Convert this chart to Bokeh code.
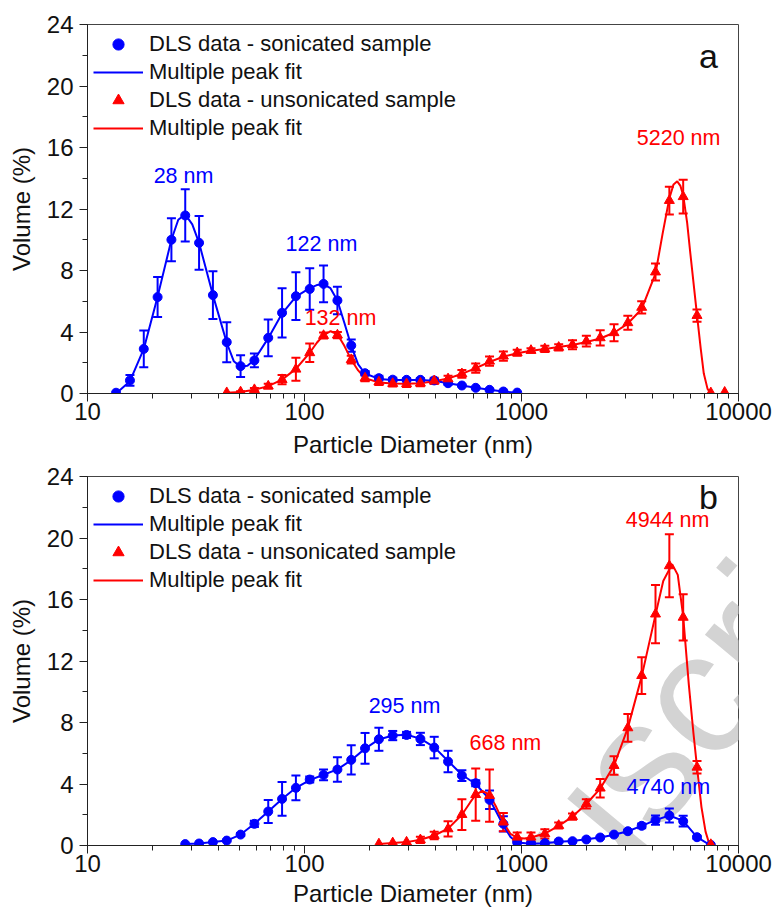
from bokeh.plotting import figure
from bokeh.layouts import column
from bokeh.models import (Range1d, LogTicker, SingleIntervalTicker, NumeralTickFormatter,
                          ColumnDataSource, Whisker, TeeHead, Legend, LegendItem, Label)
from bokeh.embed import file_html
from bokeh.resources import INLINE

FONT = "Liberation Sans"
BLUE = "#0000ff"
RED = "#ff0000"

# ---------------- Panel a ----------------
a_son_x = [13.54, 15.69, 18.17, 21.04, 24.36, 28.21, 32.67, 37.84, 43.82, 50.75, 58.77, 68.06,
           78.82, 91.28, 105.7, 122.4, 141.8, 164.2, 190.1, 220.2, 255.0, 295.3, 342.0, 396.1,
           458.7, 531.2, 615.1, 712.4, 825.0, 955.4]
a_son_y = [0.05, 0.85, 2.9, 6.27, 10.0, 11.58, 9.8, 6.4, 3.34, 1.78, 2.15, 3.62,
           5.25, 6.33, 6.8, 7.13, 6.05, 3.12, 1.32, 1.0, 0.9, 0.89, 0.89, 0.85,
           0.67, 0.52, 0.37, 0.24, 0.13, 0.06]
a_son_e = [0.0, 0.35, 1.2, 1.3, 1.4, 1.7, 1.75, 1.55, 1.3, 0.7, 0.45, 1.2,
           1.6, 1.55, 1.35, 1.2, 0.9, 0.4, 0.15, 0.15, 0.12, 0.1, 0.1, 0.1,
           0.1, 0.05, 0.05, 0.05, 0.05, 0.0]

a_uns_x = [43.82, 50.75, 58.77, 68.06, 78.82, 91.28, 105.7, 122.4, 141.8, 164.2, 190.1, 220.2,
           255.0, 295.3, 342.0, 396.1, 458.7, 531.2, 615.1, 712.4, 825.0, 955.4, 1106, 1281,
           1484, 1718, 1990, 2305, 2669, 3091, 3580, 4145, 4801, 5560, 6439, 7456, 8635]
a_uns_y = [0.05, 0.1, 0.25, 0.48, 0.9, 1.58, 2.65, 3.77, 3.8, 2.2, 1.0, 0.75,
           0.65, 0.63, 0.67, 0.82, 0.95, 1.28, 1.65, 2.1, 2.43, 2.65, 2.8, 2.9,
           3.0, 3.17, 3.4, 3.62, 3.95, 4.6, 5.6, 7.9, 12.55, 12.8, 5.07, 0.04, 0.08]
a_uns_e = [0.0, 0.05, 0.1, 0.15, 0.3, 0.75, 0.6, 0.2, 0.2, 0.25, 0.2, 0.2,
           0.2, 0.2, 0.2, 0.2, 0.2, 0.25, 0.3, 0.3, 0.3, 0.2, 0.15, 0.2,
           0.2, 0.3, 0.35, 0.5, 0.55, 0.45, 0.4, 0.55, 0.9, 1.1, 0.4, 0.0, 0.0]

a_son_fit_x = [13.54, 15.69, 18.17, 21.04, 24.36, 26.2, 28.21, 30.4, 32.67, 37.84, 43.82, 47.2,
               50.75, 54.6, 58.77, 68.06, 78.82, 91.28, 105.7, 114.0, 122.4, 131.7, 141.8, 152.6,
               164.2, 176.7, 190.1, 220.2, 255.0, 295.3, 342.0, 396.1, 458.7, 531.2, 615.1, 712.4,
               825.0, 955.4]
a_son_fit_y = [0.0, 0.8, 2.9, 6.3, 10.0, 11.3, 11.65, 11.0, 9.8, 6.4, 3.3, 2.1,
               1.75, 1.8, 2.2, 3.6, 5.2, 6.3, 6.85, 7.05, 7.1, 6.85, 6.05, 4.6,
               3.1, 1.9, 1.3, 0.95, 0.88, 0.87, 0.87, 0.83, 0.67, 0.52, 0.37, 0.24,
               0.13, 0.05]

a_uns_fit_x = [43.82, 50.75, 58.77, 68.06, 78.82, 91.28, 105.7, 114.0, 122.4, 132.0, 141.8, 152.6,
               164.2, 176.7, 190.1, 220.2, 255.0, 295.3, 342.0, 396.1, 458.7, 531.2, 615.1, 712.4,
               825.0, 955.4, 1106, 1281, 1484, 1718, 1990, 2305, 2669, 3091, 3580, 4145,
               4470, 4801, 5020, 5220, 5400, 5560, 5800, 6000, 6439, 6700, 6920, 7200, 7456]
a_uns_fit_y = [0.05, 0.1, 0.25, 0.48, 0.9, 1.6, 2.65, 3.3, 3.8, 4.05, 3.85, 3.1,
               2.2, 1.5, 1.0, 0.72, 0.65, 0.63, 0.67, 0.8, 0.97, 1.28, 1.65, 2.05,
               2.4, 2.62, 2.78, 2.9, 3.02, 3.15, 3.35, 3.58, 3.95, 4.55, 5.5, 7.8,
               10.4, 12.7, 13.6, 13.8, 13.5, 12.9, 11.1, 9.1, 5.1, 2.9, 1.3, 0.3, 0.0]

# ---------------- Panel b ----------------
b_son_x = [28.21, 32.67, 37.84, 43.82, 50.75, 58.77, 68.06, 78.82, 91.28, 105.7, 122.4, 141.8,
           164.2, 190.1, 220.2, 255.0, 295.3, 342.0, 396.1, 458.7, 531.2, 615.1, 712.4, 825.0,
           955.4, 1106, 1281, 1484, 1718, 1990, 2305, 2669, 3091, 3580, 4145, 4801, 5560, 6439, 7456]
b_son_y = [0.09, 0.13, 0.22, 0.32, 0.71, 1.41, 2.21, 3.03, 3.75, 4.29, 4.59, 4.94,
           5.57, 6.32, 6.91, 7.15, 7.19, 6.93, 6.37, 5.46, 4.55, 4.05, 2.97, 1.41,
           0.22, 0.15, 0.15, 0.26, 0.28, 0.39, 0.52, 0.71, 0.93, 1.28, 1.65, 1.95, 1.58, 0.54, 0.04]
b_son_e = [0.0, 0.0, 0.0, 0.05, 0.1, 0.2, 0.75, 1.1, 0.8, 0.2, 0.35, 0.8,
           0.95, 1.0, 0.75, 0.3, 0.2, 0.4, 0.7, 0.7, 0.35, 0.2, 0.6, 0.5,
           0.1, 0.05, 0.05, 0.05, 0.05, 0.05, 0.05, 0.05, 0.1, 0.15, 0.3, 0.45, 0.35, 0.1, 0.0]

b_uns_x = [220.2, 255.0, 295.3, 342.0, 396.1, 458.7, 531.2, 615.1, 712.4, 825.0, 955.4, 1106,
           1281, 1484, 1718, 1990, 2305, 2669, 3091, 3580, 4145, 4801, 5560, 6439, 7456]
b_uns_y = [0.1, 0.17, 0.22, 0.37, 0.65, 1.08, 2.01, 3.31, 3.25, 1.52, 0.54, 0.54,
           0.76, 1.3, 1.88, 2.71, 3.73, 5.2, 7.65, 11.05, 15.05, 18.19, 14.84, 5.09, 0.06]
b_uns_e = [0.0, 0.0, 0.0, 0.2, 0.25, 0.5, 1.0, 1.7, 1.7, 0.6, 0.3, 0.3,
           0.3, 0.2, 0.2, 0.3, 0.6, 0.6, 0.9, 1.2, 1.9, 2.05, 1.5, 0.4, 0.0]

b_son_fit_x = [28.21, 32.67, 37.84, 43.82, 50.75, 58.77, 68.06, 78.82, 91.28, 105.7, 122.4, 141.8,
               164.2, 190.1, 220.2, 255.0, 295.3, 342.0, 396.1, 458.7, 531.2, 615.1, 712.4, 765.0,
               825.0, 890.0, 955.4, 1106, 1281, 1484, 1718, 1990, 2305, 2669, 3091, 3580,
               4145, 4801, 5560, 6439, 7456]
b_son_fit_y = [0.09, 0.13, 0.22, 0.32, 0.71, 1.41, 2.21, 3.03, 3.75, 4.25, 4.6, 4.95,
               5.55, 6.3, 6.9, 7.15, 7.2, 6.95, 6.4, 5.5, 4.6, 4.0, 3.0, 2.2,
               1.3, 0.55, 0.2, 0.12, 0.15, 0.25, 0.3, 0.4, 0.52, 0.7, 0.93, 1.28,
               1.65, 1.95, 1.6, 0.55, 0.0]

b_uns_fit_x = [220.2, 255.0, 295.3, 342.0, 396.1, 458.7, 531.2, 580.0, 615.1, 660.0, 712.4, 765.0,
               825.0, 890.0, 955.4, 1030, 1106, 1281, 1484, 1718, 1990, 2305, 2669, 3091,
               3580, 4145, 4500, 4944, 5250, 5560, 5900, 6200, 6439, 6750, 7050, 7300, 7456]
b_uns_fit_y = [0.1, 0.16, 0.22, 0.37, 0.65, 1.1, 2.0, 2.8, 3.3, 3.55, 3.3, 2.5,
               1.5, 0.75, 0.5, 0.45, 0.52, 0.78, 1.28, 1.88, 2.7, 3.7, 5.2, 7.65,
               11.0, 15.0, 17.2, 18.3, 17.6, 14.9, 10.5, 7.3, 5.1, 2.5, 0.9, 0.2, 0.0]

legend_labels = ["DLS data - sonicated sample", "Multiple peak fit",
                 "DLS data - unsonicated sample", "Multiple peak fit"]

# peak annotations: (x, y, text, color)
a_peaks = [(27.7, 14.16, "28 nm", BLUE), (119.7, 9.74, "122 nm", BLUE),
           (146.5, 4.92, "132 nm", RED), (5296, 16.63, "5220 nm", RED)]
b_peaks = [(289, 9.09, "295 nm", BLUE), (843, 6.68, "668 nm", RED),
           (4710, 21.18, "4944 nm", RED), (4750, 3.82, "4740 nm", BLUE)]

x_label = "Particle Diameter (nm)"
y_label = "Volume (%)"


def add_errors(p, xs, ys, es, color):
    xx = [x for x, e in zip(xs, es) if e > 0]
    lo = [y - e for y, e in zip(ys, es) if e > 0]
    hi = [y + e for y, e in zip(ys, es) if e > 0]
    src = ColumnDataSource(dict(x=xx, lower=lo, upper=hi))
    w = Whisker(base="x", lower="lower", upper="upper", source=src, dimension="height",
                line_color=color, line_width=2,
                upper_head=TeeHead(size=9, line_color=color, line_width=2),
                lower_head=TeeHead(size=9, line_color=color, line_width=2))
    p.add_layout(w)


def make_panel(height, top, bottom, title_standoff, son, uns, son_fit, uns_fit, peaks,
               letter, letter_y, watermark=False):
    p = figure(width=775, height=height, x_axis_type="log",
               x_range=Range1d(10, 10000), y_range=Range1d(0, 24),
               output_backend="svg", toolbar_location=None,
               min_border_left=87, min_border_right=37,
               min_border_top=top, min_border_bottom=bottom)
    p.grid.visible = False
    p.outline_line_color = "#444444"
    p.outline_line_width = 1
    p.background_fill_color = "white"
    p.border_fill_color = "white"

    p.xaxis.ticker = LogTicker(num_minor_ticks=10)
    p.xaxis.formatter = NumeralTickFormatter(format="0")
    p.yaxis.ticker = SingleIntervalTicker(interval=4, num_minor_ticks=2)
    for ax in (p.xaxis[0], p.yaxis[0]):
        ax.axis_line_color = "#222222"
        ax.major_tick_line_color = "#222222"
        ax.minor_tick_line_color = "#222222"
        ax.major_tick_out = 8
        ax.major_tick_in = 0
        ax.minor_tick_out = 5
        ax.minor_tick_in = 0
        ax.major_label_text_font = FONT
        ax.major_label_text_font_size = "24px"
        ax.major_label_text_color = "#111111"
        ax.axis_label_text_font = FONT
        ax.axis_label_text_font_size = "24px"
        ax.axis_label_text_font_style = "normal"
        ax.axis_label_text_color = "#111111"
    p.xaxis.axis_label = x_label
    p.yaxis.axis_label = y_label
    p.xaxis.major_label_standoff = 1
    p.xaxis.axis_label_standoff = title_standoff
    p.yaxis.major_label_standoff = 6
    p.yaxis.axis_label_standoff = 9

    if watermark:
        p.add_layout(Label(x=128.3, y=-18.73, text="Manuscript", angle=50, angle_units="deg",
                           text_font=FONT, text_font_size="175px", text_color="#d3d3d3",
                           text_align="left", text_baseline="alphabetic", level="underlay"))

    sx, sy, se = son
    ux, uy, ue = uns
    add_errors(p, sx, sy, se, BLUE)
    add_errors(p, ux, uy, ue, RED)
    r_sfit = p.line(son_fit[0], son_fit[1], line_color=BLUE, line_width=2)
    r_ufit = p.line(uns_fit[0], uns_fit[1], line_color=RED, line_width=2)
    r_s = p.scatter(sx, sy, marker="circle", size=9, fill_color=BLUE, line_color=BLUE)
    r_u = p.scatter(ux, uy, marker="triangle", size=10, fill_color=RED, line_color=RED)

    legend = Legend(items=[LegendItem(label=legend_labels[0], renderers=[r_s]),
                           LegendItem(label=legend_labels[1], renderers=[r_sfit]),
                           LegendItem(label=legend_labels[2], renderers=[r_u]),
                           LegendItem(label=legend_labels[3], renderers=[r_ufit])],
                    location="top_left", border_line_alpha=0, background_fill_alpha=0,
                    label_text_font=FONT, label_text_font_size="22px",
                    label_text_color="#111111",
                    glyph_width=50, glyph_height=28, label_height=28, spacing=0,
                    padding=0, margin=6, label_standoff=6)
    p.add_layout(legend, "center")

    for (x, y, t, c) in peaks:
        p.add_layout(Label(x=x, y=y, text=t, text_color=c, text_font=FONT,
                           text_font_size="21.5px", text_align="center",
                           text_baseline="alphabetic"))
    p.add_layout(Label(x=7278, y=letter_y, text=letter, text_color="#111111", text_font=FONT,
                       text_font_size="34px", text_align="center", text_baseline="alphabetic"))
    return p


pa = make_panel(464, 24, 71, 8,
                (a_son_x, a_son_y, a_son_e), (a_uns_x, a_uns_y, a_uns_e),
                (a_son_fit_x, a_son_fit_y), (a_uns_fit_x, a_uns_fit_y), a_peaks, "a", 21.95)
pb = make_panel(449, 12, 68, 5,
                (b_son_x, b_son_y, b_son_e), (b_uns_x, b_uns_y, b_uns_e),
                (b_son_fit_x, b_son_fit_y), (b_uns_fit_x, b_uns_fit_y), b_peaks, "b", 22.65,
                watermark=True)

layout = column(pa, pb, spacing=0)
open("out.html", "w").write(file_html(layout, INLINE))
